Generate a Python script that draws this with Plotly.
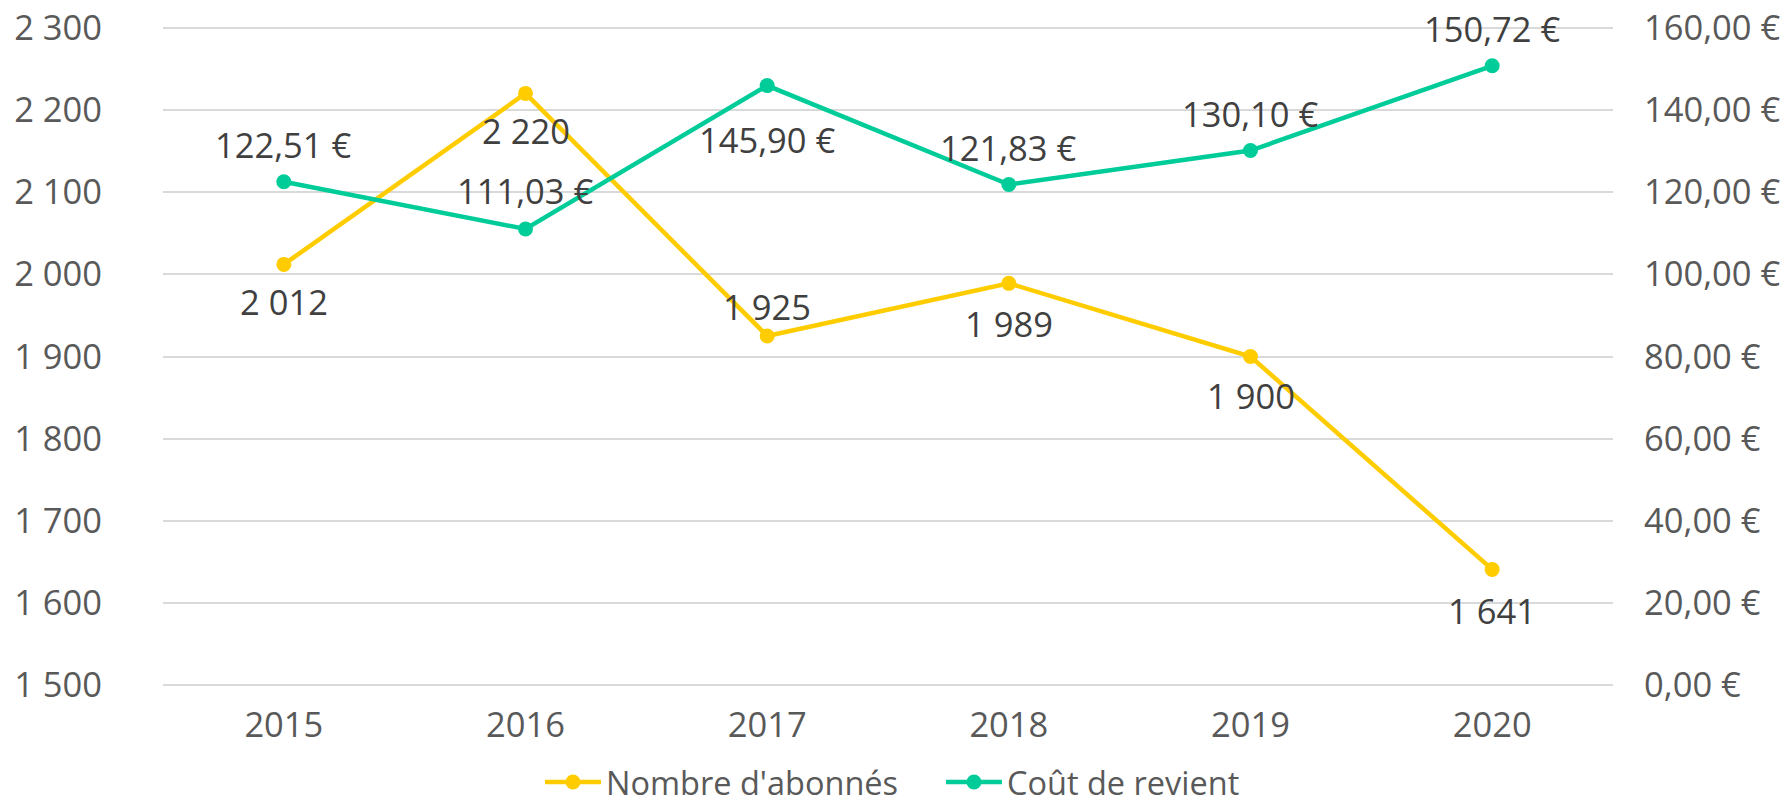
import plotly.graph_objects as go

years = ["2015", "2016", "2017", "2018", "2019", "2020"]
abonnes = [2012, 2220, 1925, 1989, 1900, 1641]
cout = [122.51, 111.03, 145.90, 121.83, 130.10, 150.72]
abonnes_labels = ["2 012", "2 220", "1 925", "1 989", "1 900", "1 641"]
cout_labels = ["122,51 €", "111,03 €", "145,90 €", "121,83 €", "130,10 €", "150,72 €"]
left_ticks = [1500, 1600, 1700, 1800, 1900, 2000, 2100, 2200, 2300]
left_ticktext = ["1 500", "1 600", "1 700", "1 800", "1 900", "2 000", "2 100", "2 200", "2 300"]
right_ticks = [0, 20, 40, 60, 80, 100, 120, 140, 160]
right_ticktext = ["0,00 €", "20,00 €", "40,00 €", "60,00 €", "80,00 €", "100,00 €", "120,00 €", "140,00 €", "160,00 €"]

# label vertical offsets (px, positive = up)
abonnes_shift = [-37, -37, 29, -40, -39, -41]
cout_shift = [37, 38, -54, 37, 37, 37]

YELLOW = "#FFCC00"
GREEN = "#00CC99"
FONT = "Open Sans"
FS = 34.5

fig = go.Figure()
fig.add_trace(go.Scatter(
    x=years, y=abonnes, name="Nombre d'abonnés", mode="lines+markers",
    line=dict(color=YELLOW, width=4.5), marker=dict(size=15, color=YELLOW),
    yaxis="y"))
fig.add_trace(go.Scatter(
    x=years, y=cout, name="Coût de revient", mode="lines+markers",
    line=dict(color=GREEN, width=4.5), marker=dict(size=15, color=GREEN),
    yaxis="y2"))

annotations = []
for i, (yv, t, s) in enumerate(zip(abonnes, abonnes_labels, abonnes_shift)):
    annotations.append(dict(x=i, y=yv, xref="x", yref="y", text=t, showarrow=False,
                            yshift=s, font=dict(family=FONT, size=FS, color="#404040")))
for i, (yv, t, s) in enumerate(zip(cout, cout_labels, cout_shift)):
    annotations.append(dict(x=i, y=yv, xref="x", yref="y2", text=t, showarrow=False,
                            yshift=s, font=dict(family=FONT, size=FS, color="#404040")))

fig.update_layout(
    width=1788, height=800,
    margin=dict(l=163, r=175, t=26, b=113, autoexpand=False),
    paper_bgcolor="white", plot_bgcolor="white",
    font=dict(family=FONT, size=FS, color="#595959"),
    xaxis=dict(type="category", range=[-0.5, len(years) - 0.5],
               showgrid=False, showline=False, ticks="",
               tickfont=dict(size=FS, color="#595959"), ticklabelstandoff=14,
               automargin=False, ticklabeloverflow="allow"),
    yaxis=dict(range=[1498, 2302], tickvals=left_ticks, ticktext=left_ticktext,
               showgrid=True, gridcolor="#D9D9D9", gridwidth=1.5, zeroline=False,
               showline=False, ticks="", ticklabelstandoff=60, automargin=False,
               ticklabeloverflow="allow",
               tickfont=dict(size=FS, color="#595959")),
    yaxis2=dict(range=[-0.4, 160.4], tickvals=right_ticks, ticktext=right_ticktext,
                overlaying="y", side="right", showgrid=False, zeroline=False,
                showline=False, ticks="", ticklabelstandoff=30, automargin=False,
                ticklabeloverflow="allow",
                tickfont=dict(size=FS, color="#595959")),
    showlegend=True,
    legend=dict(orientation="h", x=0.302, xref="container", xanchor="left",
                y=0.022, yref="container", yanchor="middle",
                font=dict(size=32.5, color="#595959"), itemwidth=56,
                entrywidth=330, entrywidthmode="pixels",
                tracegroupgap=0),
    annotations=annotations,
)

fig.write_html("out.html", config={"displayModeBar": False},
               post_script="document.body.style.margin='0';")
